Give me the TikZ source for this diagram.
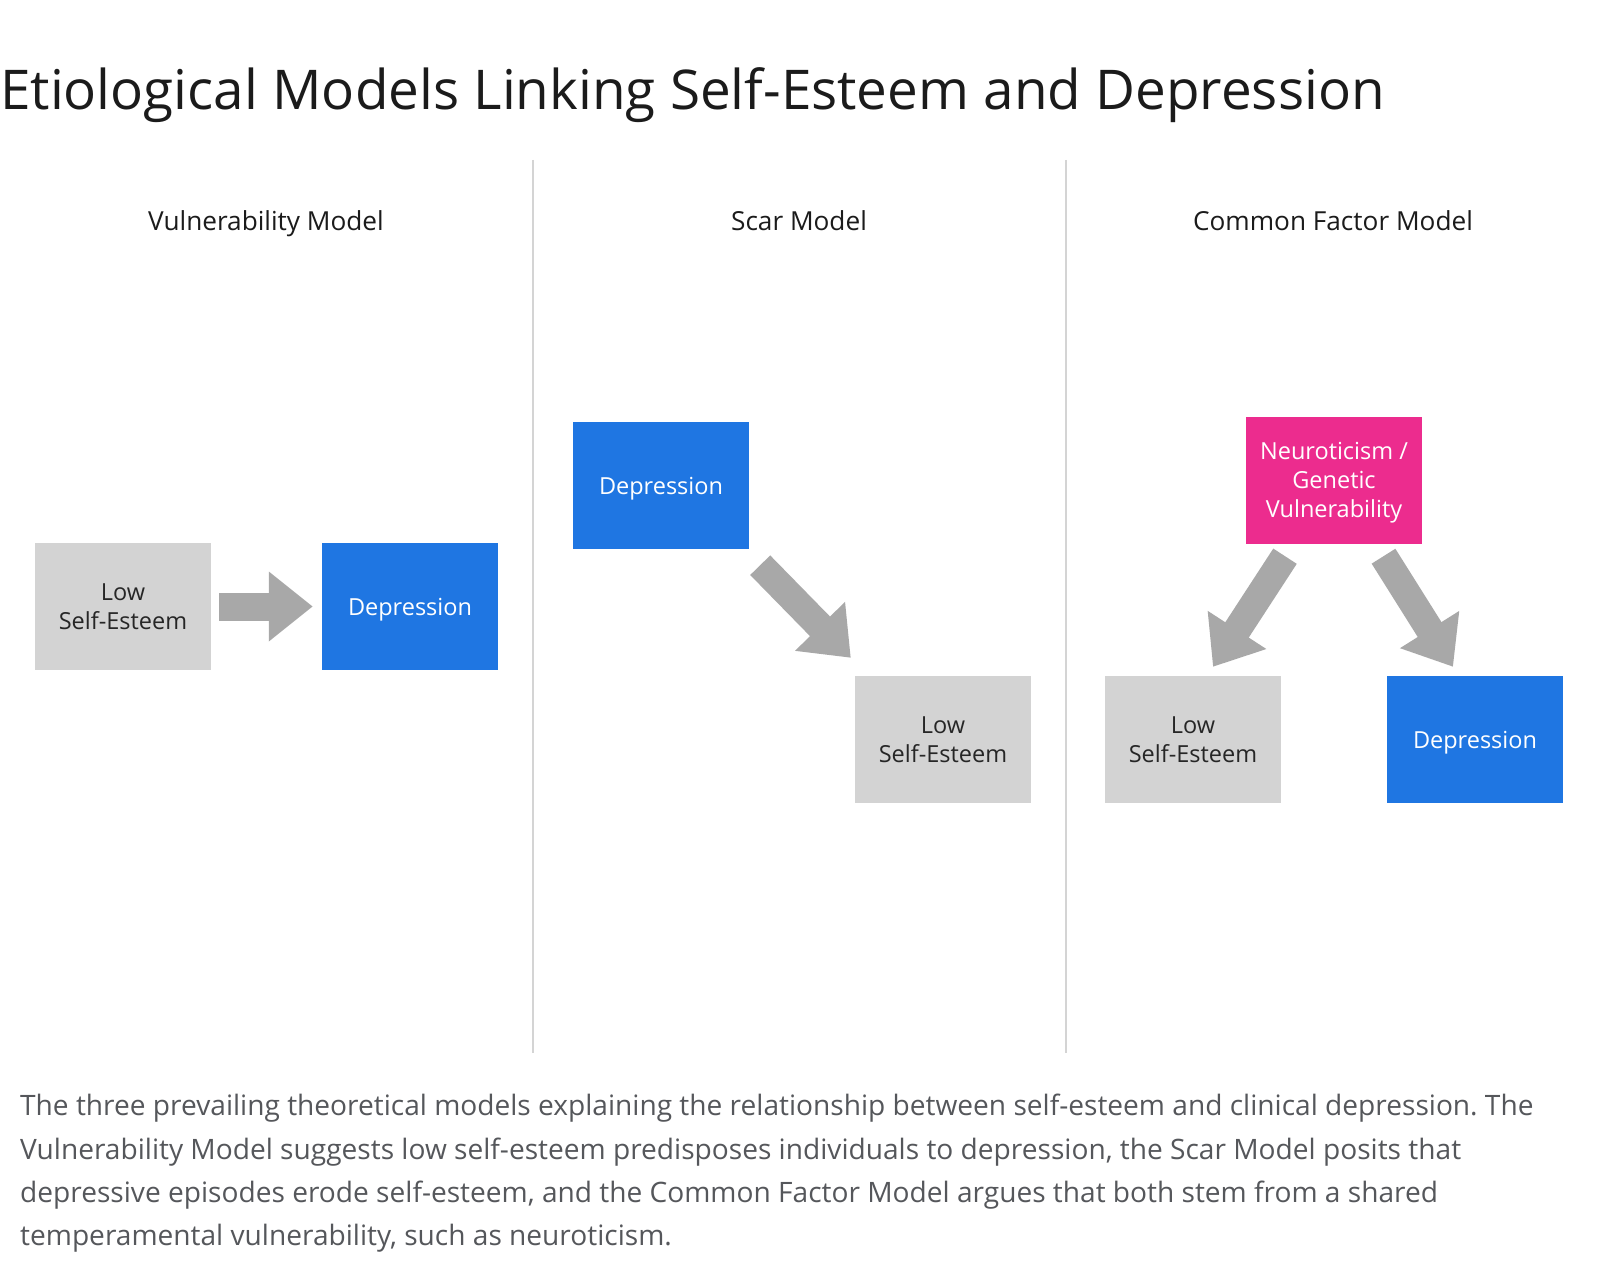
\documentclass[tikz,border=0pt]{standalone}
\usepackage{fontspec}
\setmainfont{Open Sans}
\frenchspacing
\usetikzlibrary{arrows.meta,calc}
\definecolor{boxblue}{HTML}{1F76E2}
\definecolor{boxgray}{HTML}{D3D3D3}
\definecolor{boxpink}{HTML}{EC2C8E}
\definecolor{arrowgray}{HTML}{A8A8A8}
\definecolor{divgray}{HTML}{D4D4D4}
\definecolor{titletext}{HTML}{1B1B1B}
\definecolor{captext}{HTML}{55575B}
\tikzset{
  box/.style={minimum width=176pt, minimum height=127pt, inner sep=0pt, align=center,
    font=\fontsize{23.5}{29}\selectfont},
  graybox/.style={box, fill=boxgray, text=black!85},
  bluebox/.style={box, fill=boxblue, text=white, text depth=0pt},
  pinkbox/.style={box, fill=boxpink, text=white, text depth=0pt},
  bigarrow/.style={draw=arrowgray, line width=28pt, -{Triangle[width=67pt,length=44pt]}},
  coltitle/.style={font=\fontsize{26.2}{30}\selectfont, text=titletext, anchor=base},
  capline/.style={font=\fontsize{28.1}{32}\selectfont, text=captext, anchor=base west, inner sep=0pt},
  divider/.style={draw=divgray, line width=1.5pt}
}
\begin{document}
\begin{tikzpicture}[x=1pt,y=-1pt]
\useasboundingbox[fill=white] (0,0) rectangle (1600,1268);
% title
\node[anchor=base west, inner sep=0pt, text=titletext, font=\fontsize{54.8}{64}\selectfont] (title) at (0,110) {Etiological Models Linking Self-Esteem and Depression};
% dividers
\coordinate (d1t) at (533,160); \coordinate (d1b) at (533,1053);
\coordinate (d2t) at (1066,160); \coordinate (d2b) at (1066,1053);
\draw[divider] (d1t) -- (d1b);
\draw[divider] (d2t) -- (d2b);
% column titles
\node[coltitle] (t1) at (266,230) {Vulnerability Model};
\node[coltitle] (t2) at (799,230) {Scar Model};
\node[coltitle] (t3) at (1333,230) {Common Factor Model};
% vulnerability model
\node[graybox] (vlse) at (123,606.5) {Low\\Self-Esteem};
\node[bluebox] (vdep) at (410,606.5) {Depression};
\draw[bigarrow, shorten <=8pt, shorten >=9pt] (vlse.east) -- (vdep.west);
% scar model
\node[bluebox] (sdep) at (661,485.5) {Depression};
\node[graybox] (slse) at (943,739.5) {Low\\Self-Esteem};
\draw[bigarrow] ($(sdep.south east)+(11,16)$) -- ($(slse.north west)+(-4,-18)$);
% common factor model
\node[pinkbox] (cneu) at (1334,480) {Neuroticism /\\Genetic\\Vulnerability};
\node[graybox] (clse) at (1193,739.5) {Low\\Self-Esteem};
\node[bluebox] (cdep) at (1475,739.5) {Depression};
\draw[bigarrow] ($(cneu.south)+(-49,12.5)$) -- ($(clse.north)+(20,-9)$);
\draw[bigarrow] ($(cneu.south)+(49.5,12.5)$) -- ($(cdep.north)+(-22,-9)$);
% caption
\node[capline] (c1) at (20,1115) {The three prevailing theoretical models explaining the relationship between self-esteem and clinical depression. The};
\node[capline] (c2) at (20,1159) {Vulnerability Model suggests low self-esteem predisposes individuals to depression, the Scar Model posits that};
\node[capline] (c3) at (20,1202) {depressive episodes erode self-esteem, and the Common Factor Model argues that both stem from a shared};
\node[capline] (c4) at (20,1245) {temperamental vulnerability, such as neuroticism.};
\end{tikzpicture}
\end{document}
